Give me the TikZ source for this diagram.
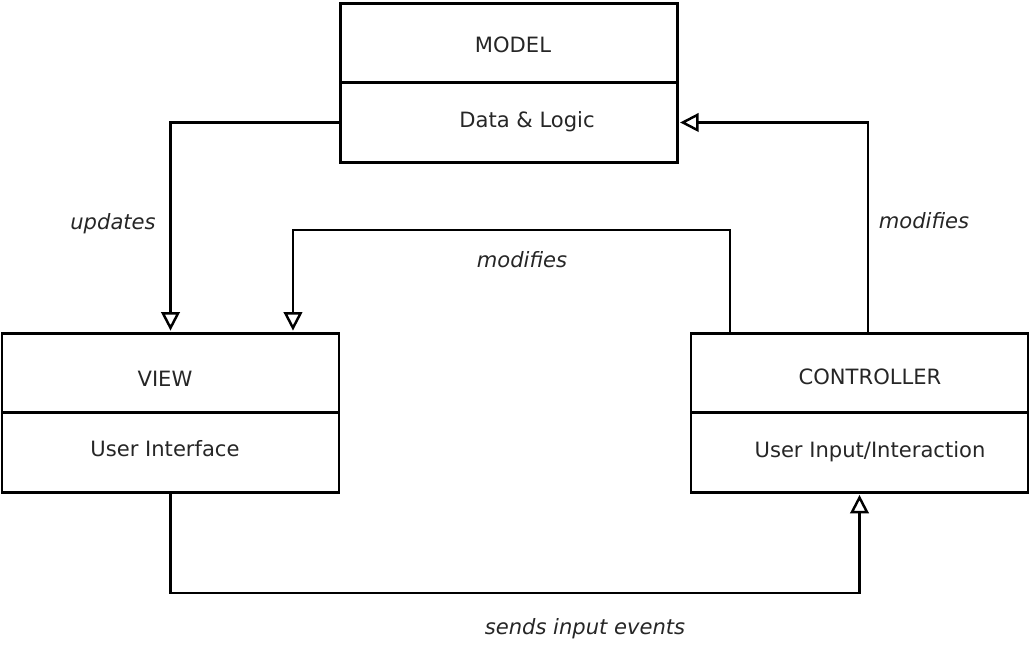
\documentclass[tikz,border=0pt]{standalone}
\usepackage{fontspec}
\setmainfont{DejaVu Sans}
\usetikzlibrary{positioning,arrows.meta}

\begin{document}
\begin{tikzpicture}[x=0.02cm,y=-0.02cm,
    box/.style={draw,line width=1.5pt,minimum width=6.74cm,minimum height=1.59cm,inner sep=0pt,outer sep=0pt},
    txt/.style={text=black!85,font=\fontsize{12}{14}\selectfont},
    link/.style={line width=1.5pt,-{Triangle[open,length=10.5pt,width=10.5pt,line width=1.4pt]},shorten >=1.5pt},
    lbl/.style={text=black!85,font=\fontsize{12}{14}\selectfont\itshape}]
    \useasboundingbox (0,0) rectangle (1029,648);

    % Model box
    \node[box] (model) at (509,43) {};
    \node[box,below=0pt of model] (modeldata) {};
    \node[txt] (modeltext) at (513,45) {MODEL};
    \node[txt] (modeldatatext) at (527,122) {Data \& Logic};

    % View box
    \node[box] (view) at (170.5,373) {};
    \node[box,below=0pt of view] (viewdata) {};
    \node[txt] (viewtext) at (165,379) {VIEW};
    \node[txt] (viewdatatext) at (165,449) {User Interface};

    % Controller box
    \node[box] (ctrl) at (859.5,373) {};
    \node[box,below=0pt of ctrl] (ctrldata) {};
    \node[txt] (ctrltext) at (870,377) {CONTROLLER};
    \node[txt] (ctrldatatext) at (870,452) {User Input/Interaction};

    % Bend points
    \coordinate (topbend) at (510,230);
    \coordinate (botbend) at (510,593);

    % Connectors
    \draw[link] (modeldata.west) -| (view.north);
    \draw[link] ([xshift=0.78cm]ctrl.north west) |- (topbend) -| ([xshift=5.82cm]view.north west);
    \draw[link] ([xshift=3.54cm]ctrl.north west) |- (modeldata.east);
    \draw[link] (viewdata.south) |- (botbend) -| (ctrldata.south);

    % Labels
    \node[lbl] (updates) at (113,224) {updates};
    \node[lbl] (modview) at (522,260) {modifies};
    \node[lbl] (modmodel) at (924,221) {modifies};
    \node[lbl] (sends) at (585,629) {sends input events};
\end{tikzpicture}
\end{document}
